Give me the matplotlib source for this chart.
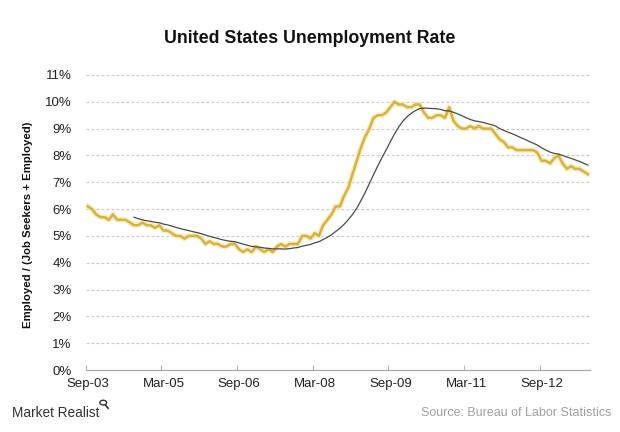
import matplotlib.pyplot as plt
import matplotlib.lines as mlines
import numpy as np
import pandas as pd

plt.rcParams['font.family'] = ['Liberation Sans', 'DejaVu Sans']

# monthly unemployment rate (%), Sep-03 .. Aug-13
rate_2003 = [6.1, 6.0, 5.8, 5.7]
rate_2004 = [5.7, 5.6, 5.8, 5.6, 5.6, 5.6, 5.5, 5.4, 5.4, 5.5, 5.4, 5.4]
rate_2005 = [5.3, 5.4, 5.2, 5.2, 5.1, 5.0, 5.0, 4.9, 5.0, 5.0, 5.0, 4.9]
rate_2006 = [4.7, 4.8, 4.7, 4.7, 4.6, 4.6, 4.7, 4.7, 4.5, 4.4, 4.5, 4.4]
rate_2007 = [4.6, 4.5, 4.4, 4.5, 4.4, 4.6, 4.7, 4.6, 4.7, 4.7, 4.7, 5.0]
rate_2008 = [5.0, 4.9, 5.1, 5.0, 5.4, 5.6, 5.8, 6.1, 6.1, 6.5, 6.8, 7.3]
rate_2009 = [7.8, 8.3, 8.7, 9.0, 9.4, 9.5, 9.5, 9.6, 9.8, 10.0, 9.9, 9.9]
rate_2010 = [9.8, 9.8, 9.9, 9.9, 9.6, 9.4, 9.4, 9.5, 9.5, 9.4, 9.8, 9.3]
rate_2011 = [9.1, 9.0, 9.0, 9.1, 9.0, 9.1, 9.0, 9.0, 9.0, 8.8, 8.6, 8.5]
rate_2012 = [8.3, 8.3, 8.2, 8.2, 8.2, 8.2, 8.2, 8.1, 7.8, 7.8, 7.7, 7.9]
rate_2013 = [8.0, 7.7, 7.5, 7.6, 7.5, 7.5, 7.4, 7.3]

tick_labels = ['Sep-03', 'Mar-05', 'Sep-06', 'Mar-08', 'Sep-09', 'Mar-11', 'Sep-12']
label_step = 18  # months between axis labels

rate = pd.Series(rate_2003 + rate_2004 + rate_2005 + rate_2006 + rate_2007
                 + rate_2008 + rate_2009 + rate_2010 + rate_2011 + rate_2012
                 + rate_2013) / 100.0
avg12 = rate.rolling(window=12).mean()
x = np.arange(len(rate))

fig = plt.figure(figsize=(6.2, 4.32), dpi=100)
ax = fig.add_axes([0.1382, 0.1435, 0.8134, 0.6829])

for v in np.arange(0.01, 0.111, 0.01):
    ax.axhline(v, color='#C8C8C8', lw=0.8, ls=(0, (2.5, 2)), zorder=1)

ax.plot(x, rate, color='#F4E8B0', lw=4.0, alpha=0.7, solid_joinstyle='round', zorder=2)
ax.plot(x, rate, color='#D6B23E', lw=1.8, solid_joinstyle='round', zorder=3)
ax.plot(x, avg12, color='#4A4A4A', lw=0.9, zorder=4)

ax.set_xlim(-0.5, len(rate) - 0.5)
ax.set_ylim(0, 0.11)
ax.set_yticks(np.arange(0, 0.111, 0.01))
ax.set_yticklabels([f'{int(round(v * 100))}%' for v in np.arange(0, 0.111, 0.01)])

label_pos = np.arange(len(tick_labels)) * label_step
ax.set_xticks(label_pos)
ax.set_xticklabels(tick_labels)
ax.set_xticks(np.arange(-0.5, len(rate), label_step), minor=True)
ax.tick_params(axis='x', which='major', length=0, pad=6, labelsize=9.5, colors='#222222')
ax.tick_params(axis='x', which='minor', length=3.5, color='#AAAAAA', direction='in')
ax.tick_params(axis='y', length=0, pad=10, labelsize=9.5, colors='#222222')

for s in ['left', 'right', 'top']:
    ax.spines[s].set_visible(False)
ax.spines['bottom'].set_color('#AAAAAA')
ax.spines['bottom'].set_linewidth(0.9)

fig.text(0.5, 0.912, 'United States Unemployment Rate', ha='center', va='center',
         fontsize=12.8, fontweight='bold', color='#111111')
fig.text(0.045, 0.48, 'Employed / (Job Seekers + Employed)', rotation=90,
         ha='center', va='center', fontsize=8.2, fontweight='bold', color='#111111')

fig.text(0.02, 0.043, 'Market Realist', ha='left', va='center', fontsize=9.8,
         color='#333333')
fig.text(0.987, 0.043, 'Source: Bureau of Labor Statistics', ha='right', va='center',
         fontsize=9, color='#A0A0A0')

# small magnifier after "Market Realist"
circ = plt.Circle((0.1665, 0.068), 0.0055, transform=fig.transFigure, fill=False,
                  color='#333333', lw=1.0)
fig.add_artist(circ)
fig.add_artist(mlines.Line2D([0.170, 0.1745], [0.0625, 0.055], transform=fig.transFigure,
                             color='#333333', lw=1.2))

fig.savefig('out.png', dpi=100)
